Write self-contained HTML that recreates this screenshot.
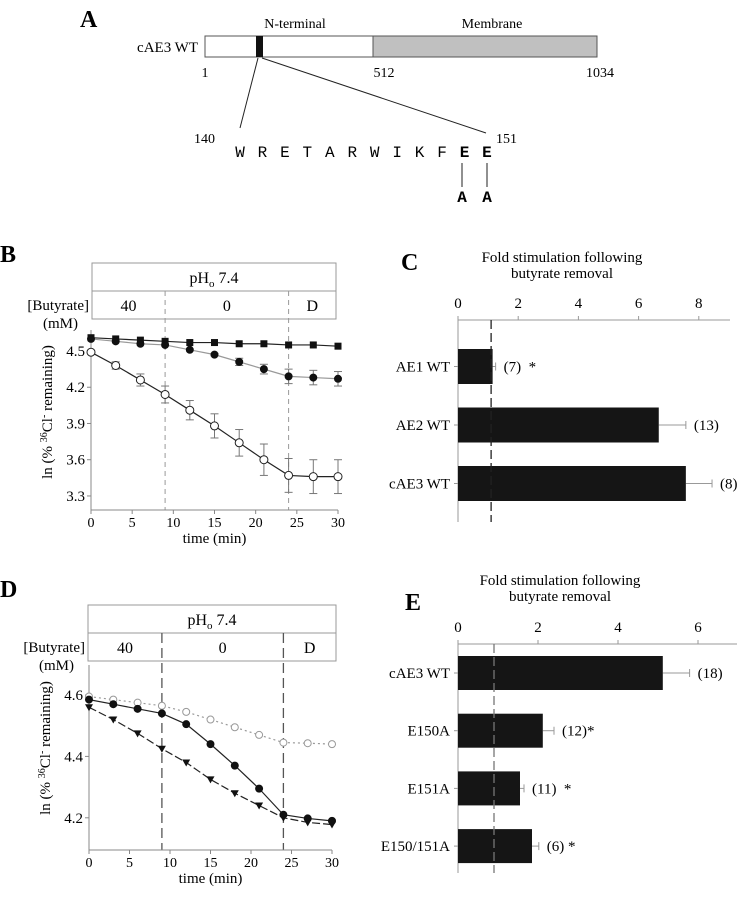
<!DOCTYPE html>
<html><head><meta charset="utf-8"><style>
html,body{margin:0;padding:0;background:#fff}
svg{display:block;font-family:"Liberation Serif",serif}
</style></head><body>
<svg id="fig" width="740" height="900" viewBox="0 0 740 900" xmlns="http://www.w3.org/2000/svg">
<g>
<text x="80" y="27" font-size="24" font-weight="bold">A</text>
<text x="295" y="28" font-size="14" text-anchor="middle">N-terminal</text>
<text x="492" y="28" font-size="14" text-anchor="middle">Membrane</text>
<text x="198" y="52" font-size="15" text-anchor="end">cAE3 WT</text>
<rect x="205" y="36" width="168" height="21" fill="#fff" stroke="#555"/>
<rect x="373" y="36" width="224" height="21" fill="#c0c0c0" stroke="#555"/>
<rect x="256" y="36" width="7" height="21" fill="#111"/>
<text x="205" y="77" font-size="14" text-anchor="middle">1</text>
<text x="384" y="77" font-size="14" text-anchor="middle">512</text>
<text x="600" y="77" font-size="14" text-anchor="middle">1034</text>
<line x1="258" y1="58" x2="240" y2="128" stroke="#222"/>
<line x1="262" y1="58" x2="486" y2="133" stroke="#222"/>
<text x="194" y="143" font-size="14">140</text>
<text x="496" y="143" font-size="14">151</text>
<g id="seq" font-size="16" font-family="Liberation Mono,monospace" text-anchor="middle"></g>
<line x1="462" y1="163" x2="462" y2="187" stroke="#222"/>
<line x1="487" y1="163" x2="487" y2="187" stroke="#222"/>
<text x="462" y="202" font-size="16" font-weight="bold" font-family="Liberation Mono,monospace" text-anchor="middle">A</text>
<text x="487" y="202" font-size="16" font-weight="bold" font-family="Liberation Mono,monospace" text-anchor="middle">A</text>
</g>
<text x="0" y="262" font-size="24" font-weight="bold">B</text>
<text x="401" y="270" font-size="24" font-weight="bold">C</text>
<text x="0" y="597" font-size="24" font-weight="bold">D</text>
<text x="405" y="610" font-size="24" font-weight="bold">E</text>
<g id="gB"></g><g id="gC"></g><g id="gD"></g><g id="gE"></g>
</svg>
<script>
// Panel B data
const timesB = [0,3,6,9,12,15,18,21,24,27,30];
const openB = [4.49,4.38,4.26,4.14,4.01,3.88,3.74,3.60,3.47,3.46,3.46];
const openBErr = [0,0.03,0.05,0.07,0.08,0.10,0.11,0.13,0.14,0.14,0.14];
const squareB = [4.61,4.60,4.59,4.58,4.57,4.57,4.56,4.56,4.55,4.55,4.54];
const filledB = [4.60,4.58,4.56,4.55,4.51,4.47,4.41,4.35,4.29,4.28,4.27];
const filledBErr = [0,0,0,0,0,0.01,0.03,0.04,0.06,0.06,0.06];
const yTicksB = [4.5,4.2,3.9,3.6,3.3];
const xTicks = [0,5,10,15,20,25,30];
// Panel D data
const timesD = [0,3,6,9,12,15,18,21,24,27,30];
const openD = [4.595,4.585,4.575,4.565,4.545,4.52,4.495,4.47,4.445,4.443,4.44];
const filledD = [4.585,4.57,4.555,4.54,4.505,4.44,4.37,4.295,4.21,4.198,4.19];
const triD = [4.56,4.52,4.475,4.425,4.38,4.325,4.28,4.24,4.2,4.185,4.178];
const yTicksD = [4.6,4.4,4.2];
// Panel C data
const catsC = ["AE1 WT","AE2 WT","cAE3 WT"];
const valsC = [1.15,6.67,7.57];
const errC = [0.1,0.9,0.87];
const nC = ["(7)  *","(13)","(8)"];
const xTicksC = [0,2,4,6,8];
// Panel E data
const catsE = ["cAE3 WT","E150A","E151A","E150/151A"];
const valsE = [5.12,2.12,1.55,1.85];
const errE = [0.67,0.28,0.1,0.17];
const nE = ["(18)","(12)*","(11)  *","(6) *"];
const xTicksE = [0,2,4,6];
const seqLetters = ["W","R","E","T","A","R","W","I","K","F","E","E"];

const NS="http://www.w3.org/2000/svg";
function mk(p,tag,a,txt){const e=document.createElementNS(NS,tag);for(const k in a)e.setAttribute(k,a[k]);if(txt!==undefined)e.textContent=txt;p.appendChild(e);return e;}

const seqG=document.getElementById('seq');
seqLetters.forEach((c,i)=>{
  const t=mk(seqG,'text',{x:240+i*22.45,y:157,'font-weight':i>=10?'bold':'normal'},c);
  
  
});

function linePanel(g,o){
  const sx=t=>o.x0+(t-0)/30*(o.x1-o.x0);
  const sy=v=>o.yRef+(o.vRef-v)*o.ppu;
  let e=mk(g,'rect',{x:o.bx,y:o.by,width:o.bw,height:o.bh*2,fill:'#fff',stroke:'#999'});
  
  
  mk(g,'line',{x1:o.bx,y1:o.by+o.bh,x2:o.bx+o.bw,y2:o.by+o.bh,stroke:'#999'});
  e=mk(g,'text',{x:o.bx+o.bw/2,y:o.by+o.bh-8,'font-size':16,'text-anchor':'middle'});
  e.innerHTML='pH<tspan font-size="11" dy="4">o</tspan><tspan dy="-4"> 7.4</tspan>';
  
  
  const r2=o.by+2*o.bh-8;
  [["40",(o.bx+sx(9))/2],["0",(sx(9)+sx(24))/2],["D",(sx(24)+o.bx+o.bw)/2]].forEach(([t,x])=>{
    const el=mk(g,'text',{x:x,y:r2,'font-size':16,'text-anchor':'middle'},t);
    
    
  });
  e=mk(g,'text',{x:o.bx-3,y:o.by+o.bh+19,'font-size':15,'text-anchor':'end'},'[Butyrate]');
  
  
  mk(g,'text',{x:o.bx-14,y:o.by+o.bh+37,'font-size':15,'text-anchor':'end'},'(mM)');
  [9,24].forEach(t=>{const l=mk(g,'line',{x1:sx(t),y1:o.by+o.bh,x2:sx(t),y2:o.axY,stroke:o.dashCol,'stroke-dasharray':o.dash,'stroke-width':o.dashW});
    
    });
  mk(g,'line',{x1:o.x0,y1:o.axTop,x2:o.x0,y2:o.axY,stroke:'#888'});
  mk(g,'line',{x1:o.x0,y1:o.axY,x2:o.x1,y2:o.axY,stroke:'#888'});
  o.yTicks.forEach(v=>{mk(g,'line',{x1:o.x0-4,y1:sy(v),x2:o.x0,y2:sy(v),stroke:'#888'});
    const t=mk(g,'text',{x:o.x0-6,y:sy(v)+5,'font-size':15,'text-anchor':'end'},v.toFixed(1));
    
    });
  xTicks.forEach(v=>{mk(g,'line',{x1:sx(v),y1:o.axY,x2:sx(v),y2:o.axY+4,stroke:'#888'});
    const t=mk(g,'text',{x:sx(v),y:o.axY+17,'font-size':14,'text-anchor':'middle'},v);
    
    });
  e=mk(g,'text',{x:(o.x0+o.x1)/2,y:o.axY+33,'font-size':15,'text-anchor':'middle'},'time (min)');
  
  
  e=mk(g,'text',{transform:`translate(${o.ytx},${o.yty}) rotate(-90)`,'font-size':15,'text-anchor':'middle'});
  e.innerHTML='ln (% <tspan font-size="10" dy="-5">36</tspan><tspan dy="5">Cl</tspan><tspan font-size="10" dy="-5">-</tspan><tspan dy="5"> remaining)</tspan>';
  
  
  o.series.forEach(s=>{
    const pts=s.vals.map((v,i)=>sx(s.t[i])+','+sy(v)).join(' ');
    const pl=mk(g,'polyline',{points:pts,fill:'none',stroke:s.col,'stroke-width':s.w||1.2,'stroke-dasharray':s.dash||'none'});
    
    
    s.vals.forEach((v,i)=>{
      const x=sx(s.t[i]),y=sy(v);
      if(s.err&&s.err[i]>0){const e1=sy(v+s.err[i]),e2=sy(v-s.err[i]);
        mk(g,'line',{x1:x,y1:e1,x2:x,y2:e2,stroke:'#777'});
        mk(g,'line',{x1:x-4,y1:e1,x2:x+4,y2:e1,stroke:'#777'});
        mk(g,'line',{x1:x-4,y1:e2,x2:x+4,y2:e2,stroke:'#777'});}
      let m;
      if(s.mark==='sq') m=mk(g,'rect',{x:x-3.5,y:y-3.5,width:7,height:7,fill:'#111'});
      else if(s.mark==='tri') m=mk(g,'polygon',{points:`${x-4},${y-3} ${x+4},${y-3} ${x},${y+4}`,fill:'#111'});
      else m=mk(g,'circle',{cx:x,cy:y,r:s.r||4,fill:s.mark==='open'?'#fff':'#111',stroke:s.mark==='open'?s.col:'#111'});
      
      
    });
  });
}

linePanel(document.getElementById('gB'),{x0:91,x1:338,yRef:351,vRef:4.5,ppu:120.8,axTop:330,axY:510,
  bx:92,by:263,bw:244,bh:28,yTicks:yTicksB,dash:'5,4',dashCol:'#999',dashW:1,ytx:52,yty:412,
  series:[
   {name:'square-series',t:timesB,vals:squareB,mark:'sq',col:'#222'},
   {name:'filled-circle-series',t:timesB,vals:filledB,err:filledBErr,mark:'fill',col:'#999',r:3.5},
   {name:'open-circle-series',t:timesB,vals:openB,err:openBErr,mark:'open',col:'#222'}]});
linePanel(document.getElementById('gD'),{x0:89,x1:332,yRef:695,vRef:4.6,ppu:307,axTop:665,axY:850,
  bx:88,by:605,bw:248,bh:28,yTicks:yTicksD,dash:'10,5',dashCol:'#555',dashW:1.3,ytx:50,yty:748,
  series:[
   {name:'open-circle-series',t:timesD,vals:openD,mark:'open',col:'#999',dash:'2,3',r:3.5},
   {name:'triangle-series',t:timesD,vals:triD,mark:'tri',col:'#222',dash:'8,3'},
   {name:'filled-circle-series',t:timesD,vals:filledD,mark:'fill',col:'#222',r:3.5}]});

function barPanel(g,o){
  const sx=v=>o.x0+v*o.ppu;
  let e=mk(g,'text',{x:o.tx,y:o.ty,'font-size':15,'text-anchor':'middle'},'Fold stimulation following');
  
  
  mk(g,'text',{x:o.tx,y:o.ty+16,'font-size':15,'text-anchor':'middle'},'butyrate removal');
  mk(g,'line',{x1:o.x0,y1:o.axY,x2:o.axEnd,y2:o.axY,stroke:'#999'});
  mk(g,'line',{x1:o.x0,y1:o.axY,x2:o.x0,y2:o.axBot,stroke:'#999'});
  o.ticks.forEach(v=>{mk(g,'line',{x1:sx(v),y1:o.axY-4,x2:sx(v),y2:o.axY,stroke:'#999'});
    const t=mk(g,'text',{x:sx(v),y:o.axY-12,'font-size':15,'text-anchor':'middle'},v);
    
    });
  o.cats.forEach((c,i)=>{
    const y=o.y0+i*o.step, x2=sx(o.vals[i]), xe=sx(o.vals[i]+o.err[i]);
    mk(g,'line',{x1:x2,y1:y+o.bh/2,x2:xe,y2:y+o.bh/2,stroke:'#999'});
    mk(g,'line',{x1:xe,y1:y+o.bh/2-4,x2:xe,y2:y+o.bh/2+4,stroke:'#999'});
    const b=mk(g,'rect',{x:o.x0,y:y,width:x2-o.x0,height:o.bh,fill:'#151515'});
    
    
    mk(g,'line',{x1:o.x0-4,y1:y+o.bh/2,x2:o.x0,y2:y+o.bh/2,stroke:'#999'});
    const l=mk(g,'text',{x:o.x0-8,y:y+o.bh/2+5,'font-size':15,'text-anchor':'end'},c);
    
    
    const n=mk(g,'text',{x:xe+8,y:y+o.bh/2+5,'font-size':15},o.n[i]);
    n.setAttribute('style','white-space:pre');
    
    
  });
  const d=mk(g,'line',{x1:sx(o.ref),y1:o.axY,x2:sx(o.ref),y2:o.axBot,stroke:o.refCol,'stroke-dasharray':'9,4','stroke-width':1.3});
  
  
}
barPanel(document.getElementById('gC'),{x0:458,ppu:30.1,axY:320,axEnd:730,axBot:522,tx:562,ty:262,
  ticks:xTicksC,cats:catsC,vals:valsC,err:errC,n:nC,y0:349,step:58.5,bh:35,ref:1.1,refCol:'#222'});
barPanel(document.getElementById('gE'),{x0:458,ppu:40,axY:644,axEnd:737,axBot:873,tx:560,ty:585,
  ticks:xTicksE,cats:catsE,vals:valsE,err:errE,n:nE,y0:656,step:57.7,bh:34,ref:0.9,refCol:'#777'});
</script>
</body></html>
